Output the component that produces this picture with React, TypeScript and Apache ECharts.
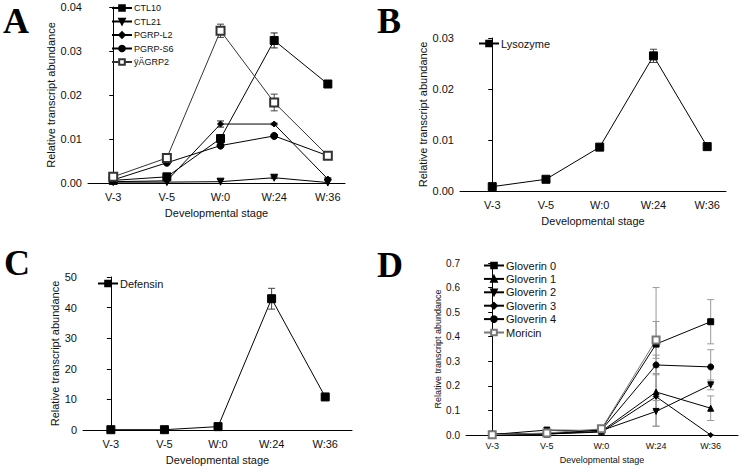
import React, { useEffect, useRef } from 'react';
import * as echarts from 'echarts';

const stages = ['V-3', 'V-5', 'W:0', 'W:24', 'W:36'];
const stageIdx = [0, 1, 2, 3, 4];

// Panel A
const ctl10 = [0.0006, 0.0014, 0.0101, 0.0324, 0.0225];
const ctl10Err = [0.0002, 0.0003, 0.0005, 0.0017, 0.0005];
const ctl21 = [0.0002, 0.0002, 0.0003, 0.0012, 0.0001];
const ctl21Err = [0, 0, 0, 0.0002, 0];
const pgrpL2 = [0.0003, 0.0005, 0.0134, 0.0134, 0.0009];
const pgrpL2Err = [0, 0, 0.0007, 0.0002, 0.0003];
const pgrpS6 = [0.0007, 0.0046, 0.0085, 0.0107, 0.0062];
const pgrpS6Err = [0.0001, 0.0002, 0.0003, 0.0003, 0.0003];
const bgrp2 = [0.0014, 0.0057, 0.0346, 0.0183, 0.0062];
const bgrp2Err = [0.0002, 0.0003, 0.0015, 0.0019, 0.0004];

// Panel B
const lysozyme = [0.00085, 0.0023, 0.0086, 0.0265, 0.0087];
const lysozymeErr = [0.0001, 0.0001, 0.0002, 0.0013, 0.0002];

// Panel C
const defensin = [0.1, 0.1, 1.1, 42.9, 10.8];
const defensinErr = [0, 0, 0.3, 3.4, 0.4];

// Panel D
const glov0 = [0.003, 0.005, 0.022, 0.37, 0.461];
const glov0Err = [0.001, 0.002, 0.004, 0.23, 0.09];
const glov1 = [0.002, 0.004, 0.015, 0.175, 0.109];
const glov1Err = [0, 0.001, 0.003, 0.075, 0.05];
const glov2 = [0.002, 0.02, 0.018, 0.096, 0.204];
const glov2Err = [0, 0.008, 0.004, 0.06, 0.02];
const glov3 = [0.002, 0.004, 0.012, 0.156, 0.0];
const glov3Err = [0, 0.001, 0.003, 0.12, 0.002];
const glov4 = [0.003, 0.006, 0.02, 0.285, 0.277];
const glov4Err = [0, 0.001, 0.004, 0.04, 0.07];
const moricin = [0.001, 0.008, 0.025, 0.387, null];
const moricinErr = [0, 0.002, 0.004, 0.075, 0];

const FONT = '"Liberation Sans", Arial, sans-serif';
const TXT = '#111';

function lineSeries(gi: number, name: string, vals: (number | null)[], symbol: string, size: number, extra: any = {}) {
  return {
    type: 'line',
    name,
    xAxisIndex: gi,
    yAxisIndex: gi,
    data: vals.map((v, i) => (v == null ? null : [stageIdx[i], v])).filter((d) => d != null),
    symbol,
    symbolSize: size,
    lineStyle: { color: extra.lineColor || '#000', width: 1 },
    itemStyle: { color: extra.color || '#000', borderColor: extra.color || '#000', borderWidth: 1 },
    symbolRotate: extra.rotate || 0,
    z: 3,
  };
}

function errSeries(gi: number, vals: (number | null)[], errs: number[], color: string, capW: number) {
  const data: number[][] = [];
  vals.forEach((v, i) => {
    if (v != null && errs[i] > 0) data.push([stageIdx[i], Math.max(0, v - errs[i]), v + errs[i]]);
  });
  return {
    type: 'custom',
    xAxisIndex: gi,
    yAxisIndex: gi,
    silent: true,
    z: 2,
    data,
    encode: { x: 0, y: [1, 2] },
    renderItem: (_p: any, api: any) => {
      const lo = api.coord([api.value(0), api.value(1)]);
      const hi = api.coord([api.value(0), api.value(2)]);
      const h = capW / 2;
      const st = { stroke: color, lineWidth: 1 };
      return {
        type: 'group',
        children: [
          { type: 'line', shape: { x1: hi[0], y1: hi[1], x2: lo[0], y2: lo[1] }, style: st },
          { type: 'line', shape: { x1: hi[0] - h, y1: hi[1], x2: hi[0] + h, y2: hi[1] }, style: st },
          { type: 'line', shape: { x1: lo[0] - h, y1: lo[1], x2: lo[0] + h, y2: lo[1] }, style: st },
        ],
      };
    },
  };
}

function xAx(gi: number, min: number, max: number, fs: number, nameFs: number, nameGap: number, margin: number) {
  return {
    type: 'value',
    gridIndex: gi,
    min,
    max,
    axisLine: { show: true, onZero: false, lineStyle: { color: '#000', width: 1 } },
    axisTick: { show: false },
    splitLine: { show: false },
    axisLabel: {
      customValues: stageIdx,
      formatter: (v: number) => stages[Math.round(v)] ?? '',
      fontSize: fs,
      fontFamily: FONT,
      color: TXT,
      margin,
    },
    name: 'Developmental stage',
    nameLocation: 'middle',
    nameGap,
    nameTextStyle: { fontSize: nameFs, fontFamily: FONT, color: TXT },
  };
}

function yAx(gi: number, max: number, interval: number, dec: number, fs: number, nameFs: number, nameGap: number) {
  return {
    type: 'value',
    gridIndex: gi,
    min: 0,
    max,
    interval,
    axisLine: { show: true, lineStyle: { color: '#000', width: 1 } },
    axisTick: { show: true, length: 4, lineStyle: { color: '#000' } },
    splitLine: { show: false },
    axisLabel: {
      formatter: (v: number) => v.toFixed(dec),
      fontSize: fs,
      fontFamily: FONT,
      color: TXT,
      margin: 6,
    },
    name: 'Relative transcript abundance',
    nameLocation: 'middle',
    nameRotate: 90,
    nameGap,
    nameTextStyle: { fontSize: nameFs, fontFamily: FONT, color: TXT },
  };
}

function legend(names: string[], left: number, top: number, fs: number, gap: number) {
  return {
    orient: 'vertical',
    left,
    top,
    padding: 0,
    data: names,
    itemWidth: 20,
    itemHeight: 7,
    itemGap: gap,
    selectedMode: false,
    textStyle: { fontSize: fs, fontFamily: FONT, color: TXT, lineHeight: 10, padding: [0, 0, 0, -3] },
  };
}

export default function App() {
  const ref = useRef<HTMLDivElement>(null);
  useEffect(() => {
    const chart = echarts.init(ref.current!, null, { renderer: 'svg' });
    const option: any = {
      animation: false,
      backgroundColor: '#fff',
      grid: [
        { left: 88, top: 7, width: 257, height: 176 },
        { left: 460, top: 38, width: 266, height: 153 },
        { left: 83, top: 277, width: 269, height: 153 },
        { left: 466, top: 263, width: 272, height: 172 },
      ],
      xAxis: [
        xAx(0, -0.47, 4.32, 11, 11, 24, 8),
        xAx(1, -0.6, 4.35, 11, 11, 24, 8),
        xAx(2, -0.52, 4.5, 11, 11, 24, 8),
        xAx(3, -0.48, 4.5, 9, 9, 20, 6),
      ],
      yAxis: [
        yAx(0, 0.04, 0.01, 2, 11, 11, 28),
        yAx(1, 0.03, 0.01, 2, 11, 11, 20),
        yAx(2, 50, 10, 0, 11, 11, 23),
        yAx(3, 0.7, 0.1, 1, 10, 9, 22),
      ],
      legend: [
        legend(['CTL10', 'CTL21', 'PGRP-L2', 'PGRP-S6', 'ÿÄGRP2'], 111, 3, 9, 3.5),
        legend(['Lysozyme'], 478, 38, 11, 3),
        legend(['Defensin'], 97, 278, 11, 3),
        legend(['Gloverin 0', 'Gloverin 1', 'Gloverin 2', 'Gloverin 3', 'Gloverin 4', 'Moricin'], 483, 260, 11, 2.4),
      ],
      graphic: [
        { type: 'text', left: 3, top: 3, style: { text: 'A', font: 'bold 36px "Liberation Serif", serif', fill: '#000' } },
        { type: 'text', left: 377, top: 3, style: { text: 'B', font: 'bold 36px "Liberation Serif", serif', fill: '#000' } },
        { type: 'text', left: 4, top: 245, style: { text: 'C', font: 'bold 36px "Liberation Serif", serif', fill: '#000' } },
        { type: 'text', left: 377, top: 247, style: { text: 'D', font: 'bold 36px "Liberation Serif", serif', fill: '#000' } },
      ],
      series: [
        errSeries(0, ctl10, ctl10Err, '#222', 7),
        errSeries(0, ctl21, ctl21Err, '#222', 7),
        errSeries(0, pgrpL2, pgrpL2Err, '#222', 7),
        errSeries(0, pgrpS6, pgrpS6Err, '#222', 7),
        errSeries(0, bgrp2, bgrp2Err, '#444', 7),
        lineSeries(0, 'CTL10', ctl10, 'rect', 8),
        lineSeries(0, 'CTL21', ctl21, 'triangle', 7, { rotate: 180 }),
        lineSeries(0, 'PGRP-L2', pgrpL2, 'diamond', 6),
        lineSeries(0, 'PGRP-S6', pgrpS6, 'circle', 7),
        lineSeries(0, 'ÿÄGRP2', bgrp2, 'emptyRect', 8, { lineColor: '#333', color: '#333' }),

        errSeries(1, lysozyme, lysozymeErr, '#444', 7),
        lineSeries(1, 'Lysozyme', lysozyme, 'rect', 8),

        errSeries(2, defensin, defensinErr, '#444', 7),
        lineSeries(2, 'Defensin', defensin, 'rect', 8),

        errSeries(3, glov0, glov0Err, '#999', 7),
        errSeries(3, glov1, glov1Err, '#999', 7),
        errSeries(3, glov2, glov2Err, '#999', 7),
        errSeries(3, glov3, glov3Err, '#999', 7),
        errSeries(3, glov4, glov4Err, '#999', 7),
        errSeries(3, moricin, moricinErr, '#999', 7),
        lineSeries(3, 'Gloverin 0', glov0, 'rect', 6),
        lineSeries(3, 'Gloverin 1', glov1, 'triangle', 6),
        lineSeries(3, 'Gloverin 2', glov2, 'triangle', 6, { rotate: 180 }),
        lineSeries(3, 'Gloverin 3', glov3, 'diamond', 5),
        lineSeries(3, 'Gloverin 4', glov4, 'circle', 6),
        lineSeries(3, 'Moricin', moricin, 'emptyRect', 7, { lineColor: '#777', color: '#777' }),
      ],
    };
    chart.setOption(option);
    return () => chart.dispose();
  }, []);
  return (
    <div
      ref={ref}
      style={{ position: 'fixed', left: 0, top: 0, width: 743, height: 467, background: '#fff' }}
    />
  );
}
